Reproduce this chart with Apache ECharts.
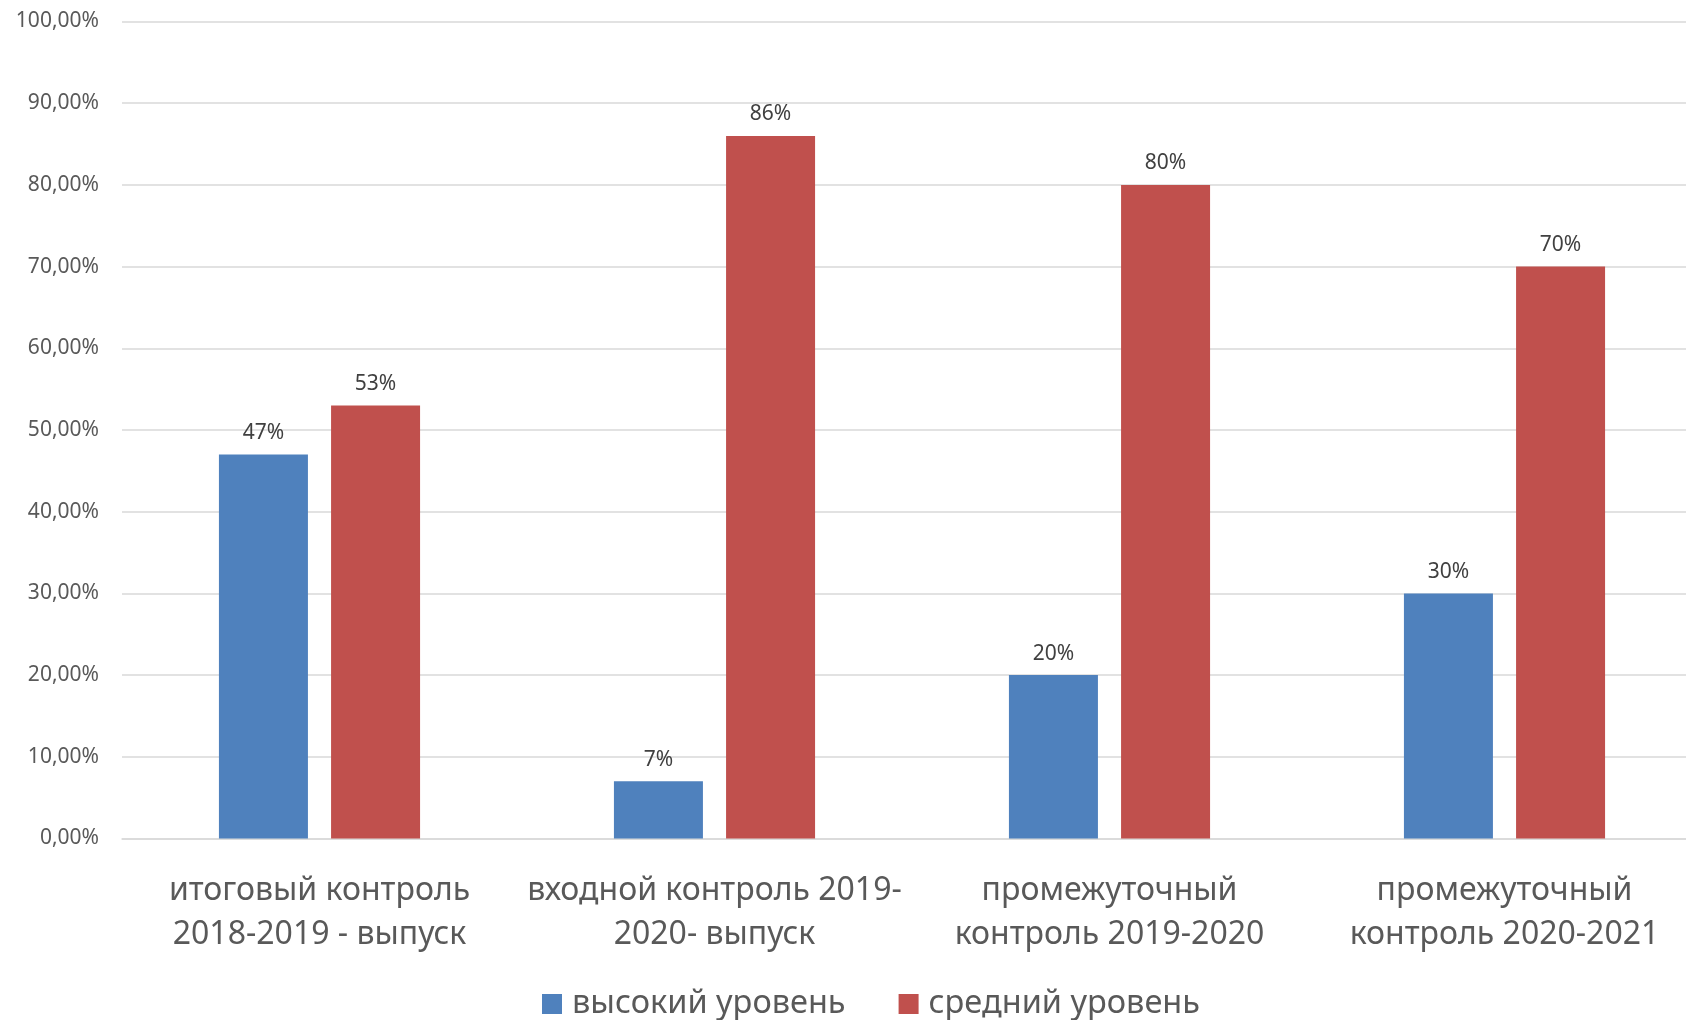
<!DOCTYPE html>
<html>
<head>
<meta charset="utf-8">
<script src="https://cdn.jsdelivr.net/npm/echarts@6/dist/echarts.min.js"></script>
<style>
html,body{margin:0;padding:0;background:#fff;overflow:hidden;width:1686px;height:1020px;}
#chart{width:1702px;height:1020px;}
</style>
</head>
<body>
<div id="chart"></div>
<script>
const categories = [
  "итоговый контроль\n2018-2019 - выпуск",
  "входной контроль 2019-\n2020- выпуск",
  "промежуточный\nконтроль 2019-2020",
  "промежуточный\nконтроль 2020-2021"
];
const seriesNames = ["высокий уровень", "средний уровень"];
const highLevel = [47, 7, 20, 30];
const midLevel = [53, 86, 80, 70];
const colors = ["#4F81BD", "#C0504D"];

const FONT = "Noto Sans";
const chart = echarts.init(document.getElementById('chart'), null, {renderer: 'canvas'});
const labelCfg = {
  show: true,
  position: 'top',
  distance: 11,
  formatter: p => p.value + '%',
  color: '#404040',
  fontFamily: FONT,
  fontSize: 21
};
chart.setOption({
  animation: false,
  backgroundColor: '#ffffff',
  color: colors,
  grid: {left: 122, top: 21.5, height: 817, right: 0, containLabel: false},
  legend: {
    data: seriesNames,
    left: 542,
    top: 987,
    padding: 0,
    itemWidth: 20,
    itemHeight: 20,
    itemGap: 53,
    icon: 'rect',
    textStyle: {fontFamily: FONT, fontSize: 32.5, color: '#595959', lineHeight: 34, padding: [0, 0, 0, 5]}
  },
  xAxis: {
    type: 'category',
    data: categories,
    axisLine: {show: true, lineStyle: {color: '#D9D9D9', width: 1.5}},
    axisTick: {show: false},
    axisLabel: {
      margin: 30,
      interval: 0,
      fontFamily: FONT,
      fontSize: 32,
      lineHeight: 44,
      color: '#595959'
    }
  },
  yAxis: {
    type: 'value',
    min: 0,
    max: 100,
    interval: 10,
    axisLine: {show: false},
    axisTick: {show: false},
    splitLine: {lineStyle: {color: '#D9D9D9', width: 1.5}},
    axisLabel: {
      margin: 23,
      fontFamily: FONT,
      fontSize: 21,
      color: '#595959',
      formatter: v => v.toFixed(2).replace('.', ',') + '%'
    }
  },
  series: [
    {name: seriesNames[0], type: 'bar', data: highLevel, barWidth: 89, barGap: '26%', label: labelCfg},
    {name: seriesNames[1], type: 'bar', data: midLevel, barWidth: 89, barGap: '26%', label: labelCfg}
  ]
});
</script>
</body>
</html>
